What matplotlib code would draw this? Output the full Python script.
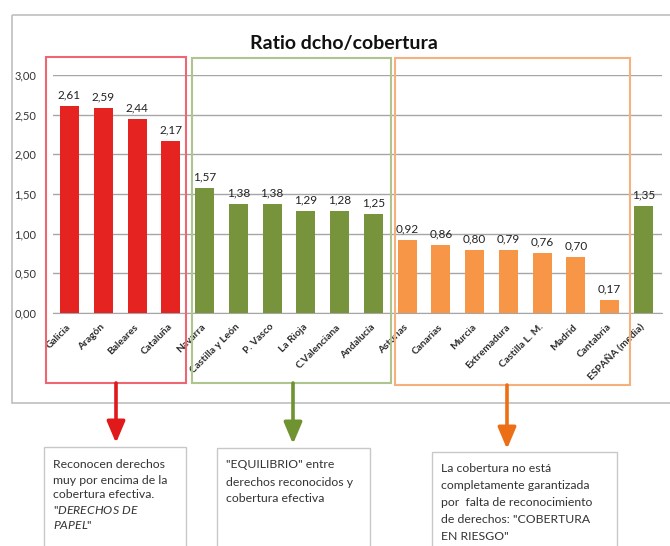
import matplotlib
matplotlib.use("Agg")
import matplotlib.pyplot as plt
from matplotlib.patches import Rectangle

plt.rcParams['font.family'] = ['Lato', 'DejaVu Sans']
plt.rcParams['mathtext.fontset'] = 'custom'
plt.rcParams['mathtext.rm'] = 'Lato'
plt.rcParams['mathtext.it'] = 'Lato:italic'

# datos
regiones = ['Galicia', 'Aragón', 'Baleares', 'Cataluña', 'Navarra', 'Castilla y León',
            'P. Vasco', 'La Rioja', 'C.Valenciana', 'Andalucía', 'Asturias', 'Canarias',
            'Murcia', 'Extremadura', 'Castilla L. M.', 'Madrid', 'Cantabria', 'ESPAÑA (media)']
ratio = [2.61, 2.59, 2.44, 2.17, 1.57, 1.38, 1.38, 1.29, 1.28, 1.25,
         0.92, 0.86, 0.80, 0.79, 0.76, 0.70, 0.17, 1.35]
grupo = ['r'] * 4 + ['g'] * 6 + ['o'] * 7 + ['g']
yticks = [0, 0.5, 1.0, 1.5, 2.0, 2.5, 3.0]

col_barra = {'r': '#e52421', 'g': '#77933c', 'o': '#f79646'}

W, H = 670, 546
fig = plt.figure(figsize=(W / 100, H / 100), dpi=100)

def px_box(x0, y0, x1, y1):
    return [x0 / W, 1 - y1 / H, (x1 - x0) / W, (y1 - y0) / H]

ax = fig.add_axes(px_box(53, 75, 662, 313))
x = list(range(len(regiones)))
ax.bar(x, ratio, width=0.56, color=[col_barra[g] for g in grupo], zorder=3)
for xi, v in zip(x, ratio):
    ax.annotate(f"{v:.2f}".replace('.', ','), (xi, v), xytext=(0, 4),
                textcoords='offset points', ha='center', va='bottom',
                fontsize=8.5, color='#222222')

ax.set_xlim(-0.49, 17.55)
ax.set_ylim(0, 3)
ax.set_yticks(yticks)
ax.set_yticklabels([f"{t:.2f}".replace('.', ',') for t in yticks], fontsize=8, color='#333333')
ax.set_xticks(x)
ax.set_xticklabels(regiones, rotation=45, ha='right', va='center', rotation_mode='anchor',
                   fontsize=7.3, fontweight='bold', color='#2b2b2b')
ax.tick_params(axis='x', length=0, pad=9)
ax.tick_params(axis='y', length=0, pad=12)
ax.grid(axis='y', color='#a6a6a6', lw=1, zorder=0)
for s in ['top', 'right', 'left']:
    ax.spines[s].set_visible(False)
ax.spines['bottom'].set_color('#a6a6a6')
ax.patch.set_alpha(0)

# capa superior en pixeles
ov = fig.add_axes([0, 0, 1, 1], zorder=5)
ov.set_xlim(0, W)
ov.set_ylim(H, 0)
ov.axis('off')
ov.patch.set_alpha(0)

ov.add_patch(Rectangle((12, 15), 670, 388, fill=False, ec='#bfbfbf', lw=1.2))
ov.text(344, 43, 'Ratio dcho/cobertura', ha='center', va='center',
        fontsize=14, fontweight='bold', color='#111111')

# recuadros de grupos
ov.add_patch(Rectangle((46, 57), 140, 326, fill=False, ec='#ee6672', lw=1.5))
ov.add_patch(Rectangle((192, 58), 199, 325, fill=False, ec='#aec58f', lw=1.5))
ov.add_patch(Rectangle((395, 58), 235, 327, fill=False, ec='#f6b07e', lw=1.5))

# flechas
for xa, y0, y1, c in [(116, 383, 443, '#e0191b'), (293, 383, 444, '#6f9330'), (507, 385, 449, '#ec6f16')]:
    ov.annotate('', xy=(xa, y1), xytext=(xa, y0),
                arrowprops=dict(arrowstyle='-|>,head_length=1.3,head_width=0.55',
                                color=c, lw=2.6, shrinkA=0, shrinkB=0))

# cuadros de texto
cajas = [
    (44, 447, 186, ['Reconocen derechos', 'muy por encima de la', 'cobertura efectiva.',
                    r'"$\mathit{DERECHOS\ DE}$', r'$\mathit{PAPEL}$"'], 465, 15),
    (217, 448, 370, ['"EQUILIBRIO" entre', 'derechos reconocidos y', 'cobertura efectiva'], 465, 17),
    (432, 452, 617, ['La cobertura no está', 'completamente garantizada', 'por  falta de reconocimiento',
                     'de derechos: "COBERTURA', 'EN RIESGO"'], 469, 16.8),
]
for x0, y0, x1, lineas, yl, dy in cajas:
    ov.add_patch(Rectangle((x0, y0), x1 - x0, 120, fc='white', ec='#c8c8c8', lw=1))
    for k, t in enumerate(lineas):
        ov.text(x0 + 9, yl + k * dy, t, ha='left', va='center', fontsize=8.8, color='#333333')

fig.savefig('out.png', dpi=100)
